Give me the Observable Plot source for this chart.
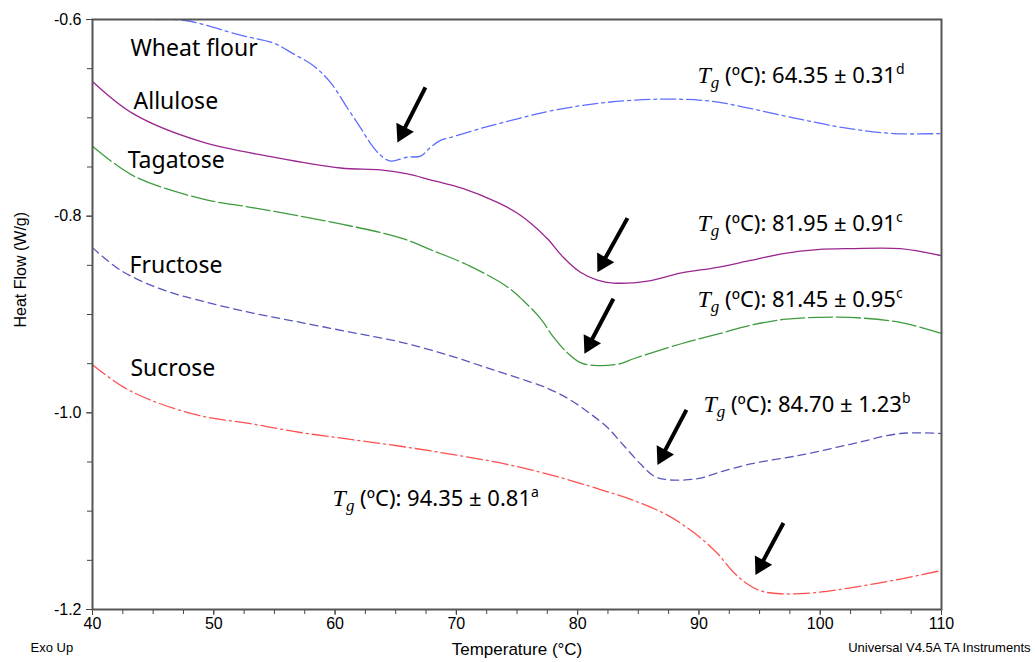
<!DOCTYPE html>
<html><head><meta charset="utf-8">
<script src="https://cdn.jsdelivr.net/npm/d3@7"></script>
<script src="https://cdn.jsdelivr.net/npm/@observablehq/plot@0.6"></script>
<style>body{margin:0;background:#fff;}</style>
</head><body><div id="chart"></div>
<script>
// ---- data ----
const wheatT  = [45.19,47.67,52.20,54.92,56.57,58.22,59.62,61.02,62.09,62.92,63.74,64.57,65.97,67.04,67.86,68.69,69.51,72.23,75.04,77.76,81.88,86.83,90.95,93.67,97.79,101.91,106.04,109.91];
const wheatHF = [-0.600,-0.601,-0.616,-0.624,-0.635,-0.647,-0.664,-0.690,-0.710,-0.726,-0.738,-0.744,-0.740,-0.739,-0.730,-0.723,-0.720,-0.710,-0.701,-0.693,-0.685,-0.681,-0.683,-0.689,-0.700,-0.710,-0.716,-0.716];

const alluloseT  = [40,43.38,48.90,54.92,60.45,63.74,65.97,67.86,70.58,73.39,75.04,76.11,77.51,78.83,80.23,81.63,82.95,85.75,88.47,91.53,94.25,96.97,99.77,102.49,106.61,109.91];
const alluloseHF = [-0.663,-0.696,-0.724,-0.740,-0.751,-0.753,-0.757,-0.763,-0.772,-0.786,-0.797,-0.807,-0.823,-0.842,-0.857,-0.865,-0.868,-0.866,-0.858,-0.852,-0.845,-0.838,-0.834,-0.833,-0.833,-0.840];

const tagatoseT  = [40,43.38,48.90,53.03,57.15,61.27,65.39,67.86,71.16,74.21,75.53,76.93,78.01,79.16,80.23,81.63,83.53,84.60,88.47,91.53,94.25,96.97,99.77,102.49,106.61,109.91];
const tagatoseHF = [-0.729,-0.759,-0.782,-0.791,-0.800,-0.810,-0.822,-0.834,-0.851,-0.872,-0.886,-0.904,-0.923,-0.939,-0.949,-0.952,-0.950,-0.945,-0.930,-0.920,-0.911,-0.905,-0.903,-0.903,-0.908,-0.919];

const fructoseT  = [40,42.31,45.61,48.90,53.03,57.15,61.27,65.39,69.51,71.99,74.71,77.51,79.41,81.05,82.46,83.78,85.18,86.25,87.40,89.88,91.53,94.25,98.37,102.49,106.61,109.91];
const fructoseHF = [-0.832,-0.855,-0.874,-0.886,-0.898,-0.908,-0.918,-0.928,-0.942,-0.952,-0.963,-0.975,-0.987,-1.001,-1.015,-1.033,-1.052,-1.064,-1.068,-1.067,-1.061,-1.052,-1.043,-1.032,-1.021,-1.021];

const sucroseT  = [40,42.31,44.78,48.90,53.03,57.15,61.27,65.39,69.51,73.64,77.76,81.88,84.60,87.40,89.05,90.12,91.53,92.84,94.00,95.07,96.72,99.44,102.49,106.61,109.74];
const sucroseHF = [-0.951,-0.972,-0.987,-1.003,-1.011,-1.020,-1.027,-1.034,-1.042,-1.051,-1.063,-1.078,-1.089,-1.104,-1.117,-1.127,-1.143,-1.162,-1.174,-1.181,-1.184,-1.183,-1.178,-1.169,-1.161];

const seriesNames = ["Wheat flour", "Allulose", "Tagatose", "Fructose", "Sucrose"];
const labelT  = [43.13, 43.38, 42.90, 43.05, 43.13];
const labelHF = [-0.630, -0.684, -0.744, -0.850, -0.955];

const tgValues  = ["64.35 ± 0.31", "81.95 ± 0.91", "81.45 ± 0.95", "84.70 ± 1.23", "94.35 ± 0.81"];
const tgLetters = ["d", "c", "c", "b", "a"];
const tgT  = [89.88, 89.88, 89.88, 90.37, 59.79];
const tgHF = [-0.657, -0.808, -0.885, -0.992, -1.088];

const arrowT1  = [67.45, 84.11, 82.95, 88.97, 96.97];
const arrowHF1 = [-0.669, -0.802, -0.884, -0.997, -1.112];
const arrowT2  = [65.14, 81.63, 80.56, 86.58, 94.66];
const arrowHF2 = [-0.725, -0.857, -0.940, -1.053, -1.165];

const xMajor = [40, 50, 60, 70, 80, 90, 100, 110];
const yMajor = [-0.6, -0.8, -1.0, -1.2];

// ---- styles ----
const colors = ["#5f6dff", "#9a2690", "#3f9b3f", "#5a57bd", "#ff5050"];
const dashes = ["15,4,3,4", null, "24,4", "8,5", "16,4,2,4"];

const W = 1035, H = 662, mL = 92, mR = 94, mT = 19, mB = 53;
const xDom = [40, 110], yDom = [-1.2, -0.6];
const kx = (W - mL - mR) / (xDom[1] - xDom[0]);
const ky = (H - mT - mB) / (yDom[1] - yDom[0]);

const Ts = [wheatT, alluloseT, tagatoseT, fructoseT, sucroseT];
const HFs = [wheatHF, alluloseHF, tagatoseHF, fructoseHF, sucroseHF];

const lineMarks = seriesNames.map((name, i) => Plot.line(
  Ts[i].map((t, j) => ({t, hf: HFs[i][j]})),
  {x: "t", y: "hf", stroke: colors[i], strokeWidth: 1.3, strokeDasharray: dashes[i], curve: "catmull-rom", clip: true}
));

// arrows: shaft + filled triangular head
const headLen = 17;
const arrows = arrowT1.map((t1, i) => {
  const dx = (arrowT2[i] - t1) * kx, dy = -(arrowHF2[i] - arrowHF1[i]) * ky;
  const len = Math.hypot(dx, dy), ux = dx / len, uy = dy / len;
  const back = (d) => ({t: arrowT2[i] - d * ux / kx, hf: arrowHF2[i] + d * uy / ky});
  const shaftEnd = back(headLen * 0.8), center = back(headLen * 2 / 3);
  return {t1, hf1: arrowHF1[i], t2: shaftEnd.t, hf2: shaftEnd.hf, ct: center.t, chf: center.hf,
          rot: Math.atan2(ux, -uy) * 180 / Math.PI};
});

const tickFont = "Liberation Sans, Arial, sans-serif";
const labelFont = "Noto Sans, sans-serif";

const plot = Plot.plot({
  width: W, height: H,
  marginLeft: mL, marginRight: mR, marginTop: mT, marginBottom: mB,
  x: {domain: xDom},
  y: {domain: yDom},
  style: {fontFamily: tickFont, background: "#fff", color: "#000"},
  marks: [
    Plot.axisY({ticks: yMajor, tickFormat: d => d.toFixed(1), tickSize: 6, tickPadding: 5, fontSize: 16, label: null, stroke: "#444"}),
    Plot.axisY({ticks: d3.range(-1.2, -0.59, 0.05), tickFormat: () => "", tickSize: 5, label: null, stroke: "#444"}),
    Plot.axisX({ticks: xMajor, tickFormat: d => String(d), tickSize: 6, tickPadding: 2, fontSize: 16, label: null, stroke: "#444"}),
    Plot.axisX({ticks: d3.range(40, 110.1, 2.5), tickFormat: () => "", tickSize: 5, label: null, stroke: "#444"}),
    ...lineMarks,
    Plot.frame({stroke: "#555", strokeWidth: 2}),
    Plot.link(arrows, {x1: "t1", y1: "hf1", x2: "t2", y2: "hf2", stroke: "#000", strokeWidth: 4}),
    Plot.dot(arrows, {x: "ct", y: "chf", rotate: "rot", symbol: "triangle", r: headLen / 2.333, fill: "#000", stroke: "none"}),
    Plot.text(seriesNames, {x: (d, i) => labelT[i], y: (d, i) => labelHF[i], text: d => d, textAnchor: "start", lineAnchor: "middle", fontSize: 23, fontFamily: labelFont, fill: "#000"}),
    Plot.text(tgValues, {x: (d, i) => tgT[i], y: (d, i) => tgHF[i], text: (d, i) => "Tg (ºC): " + d + tgLetters[i], textAnchor: "start", lineAnchor: "middle", fontSize: 22, fontFamily: labelFont, fill: "#000"}),
    Plot.text(["Heat Flow (W/g)"], {frameAnchor: "left", dx: -72, dy: 13, rotate: -90, fontSize: 16, fill: "#000"}),
    Plot.text(["Temperature (°C)"], {frameAnchor: "bottom", dy: 45, fontSize: 17, fill: "#000"}),
    Plot.text(["Exo Up"], {frameAnchor: "bottom-left", dx: -62, dy: 42, textAnchor: "start", fontSize: 13, fill: "#000"}),
    Plot.text(["Universal V4.5A TA Instruments"], {frameAnchor: "bottom-right", dx: 89, dy: 42, textAnchor: "end", fontSize: 13, fill: "#000"})
  ]
});

// rich formatting for Tg annotations (italic T, subscript g, superscript letter)
d3.select(plot).selectAll("text").filter(function() { return this.textContent.startsWith("Tg ("); }).each(function() {
  const idx = tgValues.findIndex(v => this.textContent.includes(v));
  const t = d3.select(this);
  t.text(null);
  t.append("tspan").attr("font-style", "italic").attr("font-family", "Liberation Serif, serif").attr("font-size", "24px").text("T");
  t.append("tspan").attr("font-style", "italic").attr("font-family", "Liberation Serif, serif").attr("font-size", "17px").attr("dy", "5").text("g");
  t.append("tspan").attr("dy", "-5").text(" (ºC): " + tgValues[idx]);
  t.append("tspan").attr("font-size", "14px").attr("dy", "-9").text(tgLetters[idx]);
});

document.getElementById("chart").appendChild(plot);
</script>
</body></html>
